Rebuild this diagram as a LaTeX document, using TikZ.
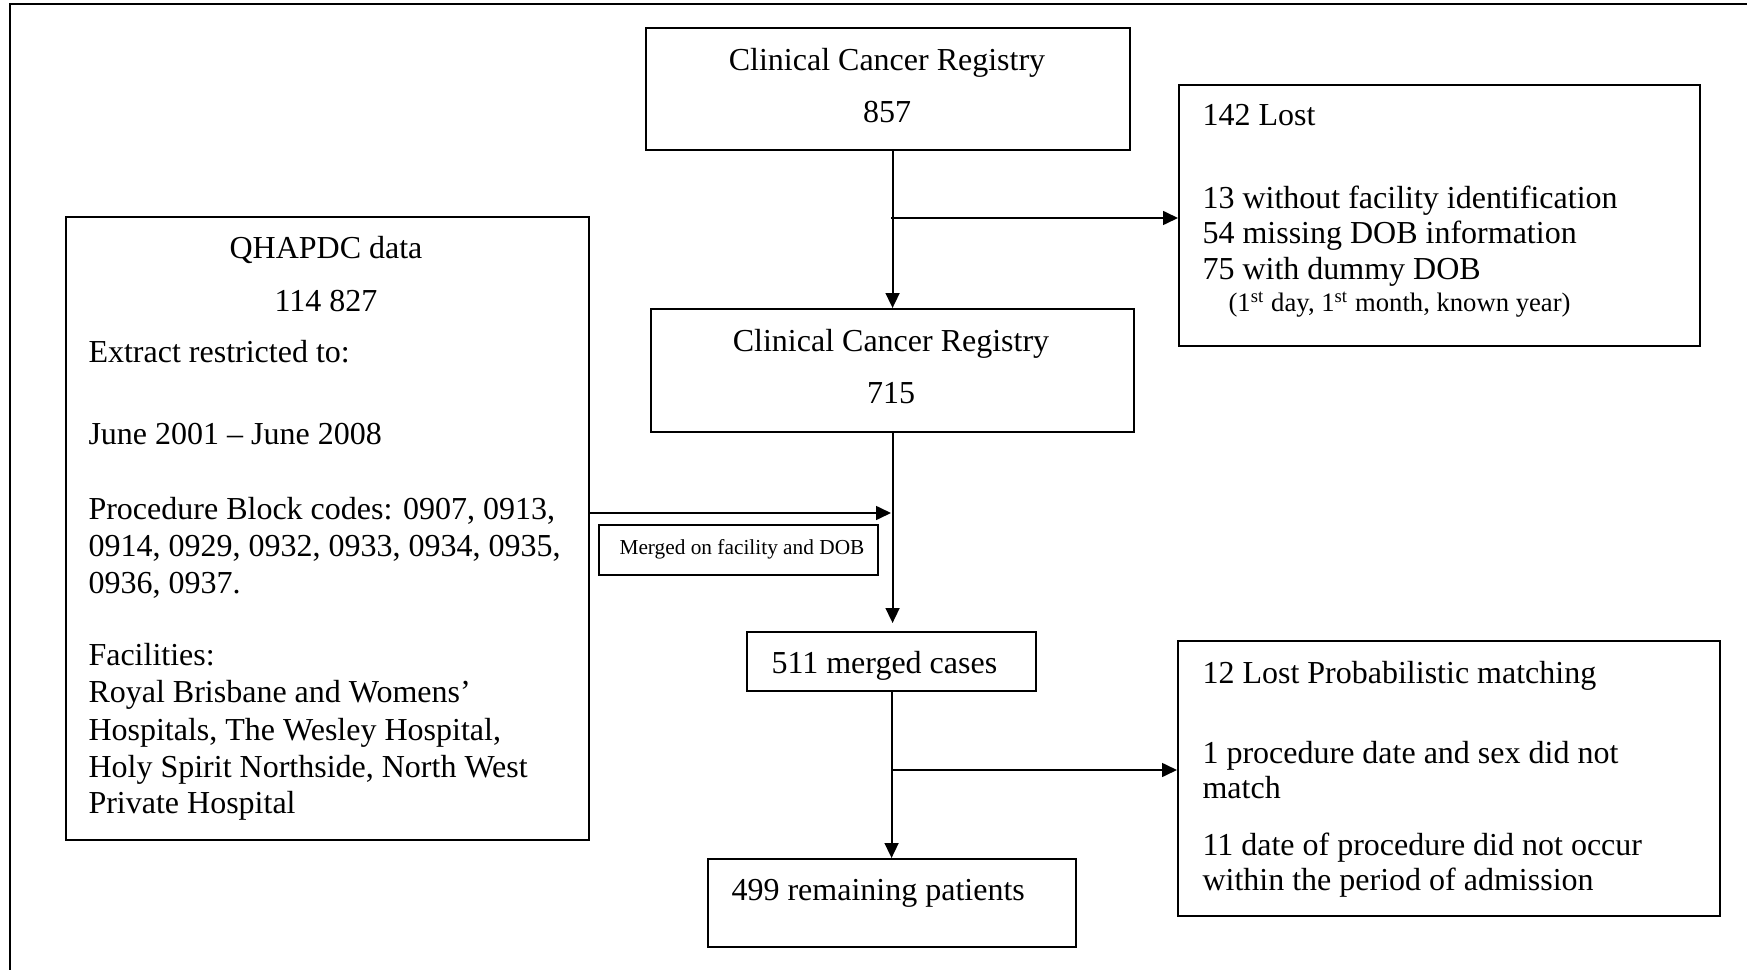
\documentclass[tikz,border=0pt]{standalone}
\usepackage{fontspec}
\setmainfont{Liberation Serif}
\usepackage{tikz}
\usetikzlibrary{arrows.meta, positioning}
\tikzset{
    % Box styles - plain thin frames
    flowbox/.style={
        rectangle,
        draw=black,
        line width=0.8pt,
        anchor=north west,
        inner sep=0pt
    },
    % Text styles
    boxtext/.style={
        anchor=base west,
        inner sep=0pt,
        font=\fontsize{12}{14}\selectfont
    },
    midtext/.style={
        anchor=base,
        inner sep=0pt,
        font=\fontsize{12}{14}\selectfont
    },
    notetext/.style={
        anchor=base west,
        inner sep=0pt,
        font=\fontsize{10}{12}\selectfont
    },
    labeltext/.style={
        anchor=base west,
        inner sep=0pt,
        font=\fontsize{8}{10}\selectfont
    },
    % Arrow styles
    myarrow/.style={
        -{Triangle[length=5.6pt,width=5.2pt]},
        line width=0.7pt
    },
    frameline/.style={
        line width=0.8pt
    }
}

\begin{document}
\begin{tikzpicture}[x=0.375pt, y=-0.375pt]
    \useasboundingbox (0,0) rectangle (1747,970);

    % Outer frame
    \draw[frameline] (10,970) -- (10,4) -- (1747,4);

    % Boxes
    \node[flowbox, minimum width=181.5pt, minimum height=45.75pt] (ccr1) at (645,27) {};
    \node[flowbox, minimum width=195.375pt, minimum height=97.875pt] (lost1) at (1178,84) {};
    \node[flowbox, minimum width=196.125pt, minimum height=233.625pt] (qhapdc) at (65,216) {};
    \node[flowbox, minimum width=181.125pt, minimum height=46.125pt] (ccr2) at (650,308) {};
    \node[flowbox, minimum width=104.625pt, minimum height=18.75pt] (mergelbl) at (598,524) {};
    \node[flowbox, minimum width=108.375pt, minimum height=22.125pt] (merged) at (746,631) {};
    \node[flowbox, minimum width=203.25pt, minimum height=103.125pt] (lost2) at (1177,640) {};
    \node[flowbox, minimum width=138pt, minimum height=33pt] (remain) at (707,858) {};

    % Registry texts
    \node[midtext] (ccr1a) at (887,71) {Clinical Cancer Registry};
    \node[midtext] (ccr1b) at (887,123) {857};
    \node[midtext] (ccr2a) at (891,351) {Clinical Cancer Registry};
    \node[midtext] (ccr2b) at (891,403) {715};

    % First losses
    \node[boxtext] (lost1a) at (1202,126) {142 Lost};
    \node[boxtext] (lost1b) at (1202,208) {13 without facility identification};
    \node[boxtext] (lost1c) at (1202,244) {54 missing DOB information};
    \node[boxtext] (lost1d) at (1202,280) {75 with dummy DOB};
    \node[notetext] (lost1e) at (1228,312) {(1\textsuperscript{st} day, 1\textsuperscript{st} month, known year)};

    % QHAPDC extract
    \node[midtext] (qha) at (326,258) {QHAPDC data};
    \node[midtext] (qhb) at (326,311) {114 827};
    \node[boxtext] (qhc) at (88,362) {Extract restricted to:};
    \node[boxtext] (qhd) at (88,444) {June 2001 – June 2008};
    \node[boxtext] (qhe) at (88,519) {Procedure Block codes: 0907, 0913,};
    \node[boxtext] (qhf) at (88,556) {0914, 0929, 0932, 0933, 0934, 0935,};
    \node[boxtext] (qhg) at (88,593) {0936, 0937.};
    \node[boxtext] (qhh) at (88,665) {Facilities:};
    \node[boxtext] (qhi) at (88,702) {Royal Brisbane and Womens’};
    \node[boxtext] (qhj) at (88,740) {Hospitals, The Wesley Hospital,};
    \node[boxtext] (qhk) at (88,777) {Holy Spirit Northside, North West};
    \node[boxtext] (qhl) at (88,813) {Private Hospital};

    % Merge step
    \node[labeltext] (mergea) at (619,554) {Merged on facility and DOB};
    \node[boxtext] (mergedtxt) at (771,673) {511 merged cases};

    % Second losses
    \node[boxtext] (lost2a) at (1202,683) {12 Lost Probabilistic matching};
    \node[boxtext] (lost2b) at (1202,763) {1 procedure date and sex did not};
    \node[boxtext] (lost2c) at (1202,798) {match};
    \node[boxtext] (lost2d) at (1202,855) {11 date of procedure did not occur};
    \node[boxtext] (lost2e) at (1202,890) {within the period of admission};

    % Final count
    \node[boxtext] (remaintxt) at (731,900) {499 remaining patients};

    % Connectors
    \coordinate (fork1) at (891,218);
    \coordinate (join) at (891,513);
    \coordinate (fork2) at (891,770);
    \draw[myarrow] (ccr1.south -| ccr2.north) -- (ccr2.north);
    \draw[myarrow] (fork1) -- (fork1 -| lost1.west);
    \draw[myarrow] (qhapdc.east |- join) -- (join);
    \draw[myarrow, shorten >=3pt] (ccr2.south) -- (ccr2.south |- merged.north);
    \draw[myarrow] (merged.south) -- (merged.south |- remain.north);
    \draw[myarrow] (fork2) -- (fork2 -| lost2.west);
\end{tikzpicture}
\end{document}
